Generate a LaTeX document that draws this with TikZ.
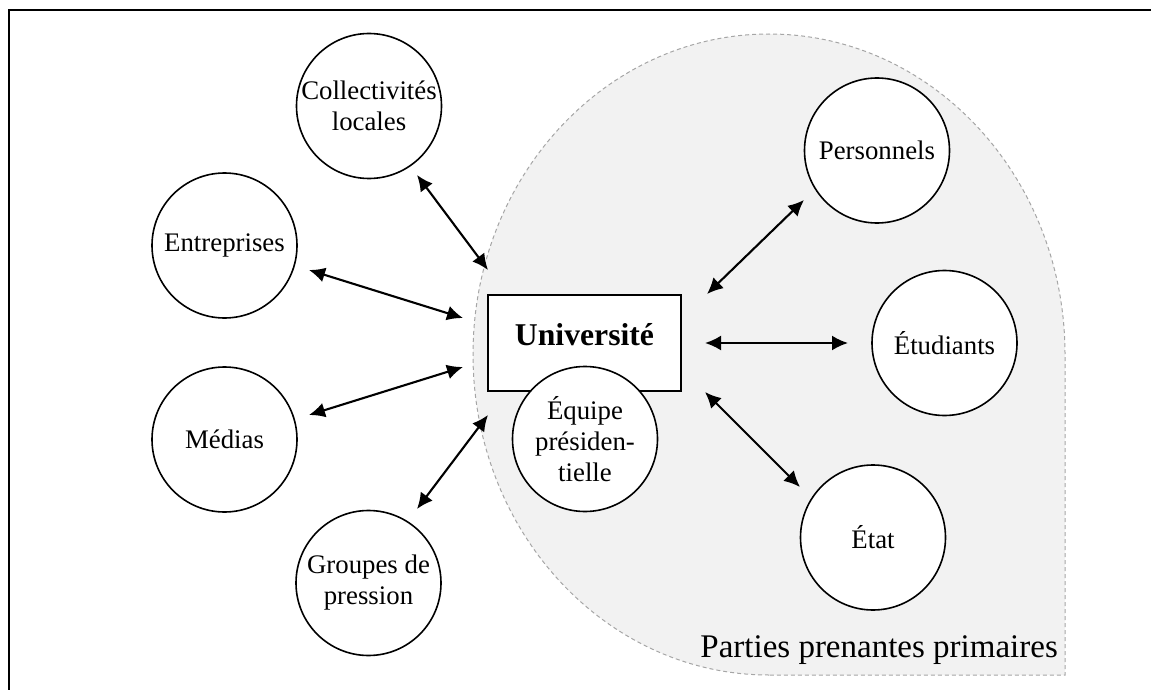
\documentclass[tikz,border=0pt]{standalone}
\usepackage{fontspec}
\setmainfont{Liberation Serif}
\usetikzlibrary{arrows.meta}
\definecolor{shadefill}{HTML}{F2F2F2}
\definecolor{shadeline}{HTML}{A6A6A6}
\begin{document}
\begin{tikzpicture}[x=1pt,y=-1pt,
  ptext/.style={align=center,inner sep=0pt,font=\fontsize{26.8}{31}\selectfont},
  party/.style={circle,draw,line width=1.6pt,fill=white,minimum size=145pt,inner sep=0pt,
    label={[ptext]center:{#1}}},
  unibox/.style={rectangle,draw,line width=1.6pt,fill=white,minimum width=193pt,minimum height=96pt,inner sep=0pt},
  link/.style={{Latex[length=16pt,width=15pt]}-{Latex[length=16pt,width=15pt]},line width=2.1pt},
  zone/.style={fill=shadefill,draw=shadeline,line width=1pt,dash pattern=on 4pt off 3pt}
]
\useasboundingbox (0,0) rectangle (1151,690);

% primary stakeholder zone (teardrop)
\path[zone] (769,675) arc[start angle=270,end angle=0,x radius=296pt,y radius=320.5pt]
  -- (1065,675) -- cycle;

% outer frame
\draw[line width=2.2pt] (9,690) -- (9,10) -- (1151,10);

% stakeholders
\node[party={Collectivités\\locales}] (coll) at (369,106) {};
\node[party={Entreprises}] (entr) at (224.5,245.5) {};
\node[party={Médias}] (medi) at (224.5,439.5) {};
\node[party={Groupes de\\pression}] (grp) at (368.5,583) {};
\node[party={Personnels}] (pers) at (877,150.5) {};
\node[party={Étudiants}] (etud) at (944.5,343) {};
\node[party={État}] (etat) at (873,537.5) {};

% university
\node[unibox] (univ) at (584.5,343) {};
\node[anchor=base,inner sep=0pt,font=\fontsize{31.7}{36}\selectfont\bfseries] (univt) at (584.5,345) {Université};
\node[party={Équipe\\présiden-\\tielle}] (equi) at (585,439) {};

% connector end points
\coordinate (c1a) at (417,175); \coordinate (c1b) at (488,270);
\coordinate (c2a) at (309,270); \coordinate (c2b) at (463,318);
\coordinate (c3a) at (463,367); \coordinate (c3b) at (309,415);
\coordinate (c4a) at (488,415); \coordinate (c4b) at (417,509);
\coordinate (c5a) at (707,294); \coordinate (c5b) at (804,200);
\coordinate (c6a) at (705,343); \coordinate (c6b) at (848,343);
\coordinate (c7a) at (705,392); \coordinate (c7b) at (800,487);

\draw[link] (c1a) -- (c1b);
\draw[link] (c2a) -- (c2b);
\draw[link] (c3a) -- (c3b);
\draw[link] (c4a) -- (c4b);
\draw[link] (c5a) -- (c5b);
\draw[link] (c6a) -- (c6b);
\draw[link] (c7a) -- (c7b);

\node[anchor=base east,inner sep=0pt,font=\fontsize{33}{38}\selectfont] (ppp) at (1058,657) {Parties prenantes primaires};
\end{tikzpicture}
\end{document}
